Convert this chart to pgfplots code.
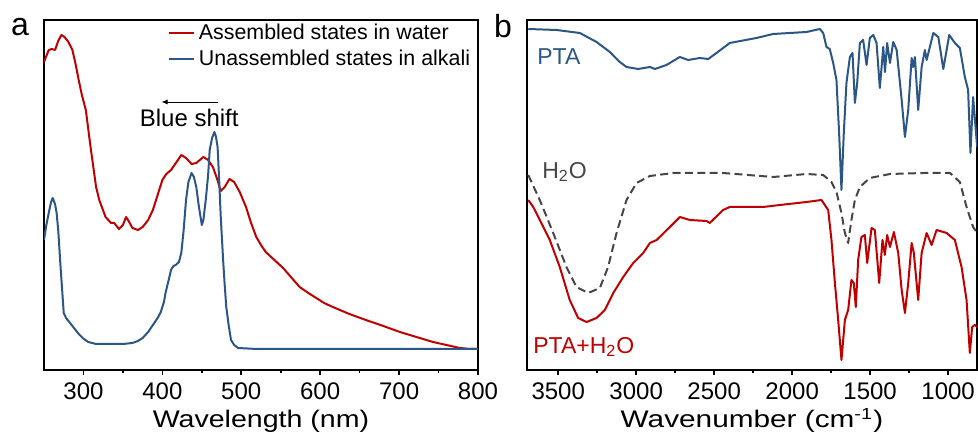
\documentclass[border=0pt]{standalone}
\usepackage{fontspec}
\setmainfont{Liberation Sans}
\usepackage{graphicx}
\usepackage{pgfplots}
\pgfplotsset{compat=1.18}
\usetikzlibrary{arrows.meta}

\definecolor{cred}{RGB}{192,0,0}
\definecolor{cblue}{RGB}{44,86,134}
\definecolor{cgray}{RGB}{70,70,70}

\pgfplotsset{
  spec/.style={
    scale only axis,
    height=175pt,
    ymin=0, ymax=350,
    ytick=\empty,
    xtick pos=bottom,
    tick align=outside,
    minor x tick num=1,
    major tick length=2.5pt,
    minor tick length=1.5pt,
    axis line style={line width=0.8pt},
    tick style={line width=0.8pt, black},
    xticklabel style={font=\fontsize{12}{14}\selectfont, anchor=base, yshift=-12.5pt, inner sep=0pt},
    x label style={font=\fontsize{12}{14}\selectfont, at={(axis description cs:0.5,0)},
      anchor=base, yshift=-29pt, inner sep=0pt},
    /pgf/number format/assume math mode=true,
    /pgf/number format/1000 sep={},
    every axis plot/.append style={line width=1pt, line join=round},
  }
}

\begin{document}
\begin{tikzpicture}
  % panel a: absorption spectra
  \begin{axis}[
    spec,
    at={(22pt,33.5pt)}, anchor=south west,
    width=217pt,
    xmin=250, xmax=800,
    xtick={300,400,...,800},
    xlabel={\scalebox{1.19}[1]{Wavelength (nm)}},
    legend style={draw=none, fill=none, at={(0.28,1.008)}, anchor=north west,
      font=\fontsize{10.7}{12}\selectfont, inner sep=1pt, row sep=0pt},
    legend cell align=left,
    legend image code/.code={\draw[#1] (0pt,0pt) -- (12.5pt,0pt);},
  ]
    \addplot[cred] coordinates {
      (250,308) (256,320) (260,321) (264,320) (268,329) (272,335) (276,333)
      (281,328) (286,320) (290,306) (294,290) (298,275) (303,260) (309,223)
      (316,183) (320,170) (328,153) (335,147) (339,147) (345,141) (350,145)
      (354,153) (358,148) (362,142) (369,140) (375,143) (382,150) (388,160)
      (394,175) (400,190) (405,196) (411,200) (418,208) (424,215) (430,212)
      (437,206) (443,207) (452,213) (458,210) (464,203) (469,192) (474,179)
      (479,183) (485,191) (491,188) (498,178) (506,163) (512,148) (519,133)
      (525,125) (531,118) (542,110) (553,102) (564,92) (574,83) (585,77)
      (595,72) (605,67) (616,63) (637,56) (658,50) (680,44) (701,38)
      (722,33) (743,28) (760,25) (777,22) (790,21) (800,21)
    };
    \addlegendentry{Assembled states in water}
    \addplot[cblue] coordinates {
      (250,130) (253,145) (256,157) (259,168) (261,172) (264,166) (266,157)
      (268,140) (271,103) (273,80) (275,57) (278,52) (282,48) (288,42)
      (294,36) (299,32) (306,28) (316,26) (337,26) (350,26) (362,27)
      (369,29) (375,32) (382,38) (388,45) (394,52) (398,58) (402,68)
      (404,77) (408,90) (411,100) (414,104) (417,105) (421,108) (424,117)
      (427,140) (430,170) (433,188) (437,197) (440,193) (443,183) (446,165)
      (450,145) (452,150) (455,170) (458,195) (460,220) (463,232) (466,238)
      (468,233) (470,223) (472,190) (474,153) (477,110) (479,85) (481,63)
      (484,45) (487,30) (491,25) (496,22) (520,21) (600,21) (800,21)
    };
    \addlegendentry{Unassembled states in alkali}
    \draw[-{Latex[length=3pt,width=2.5pt]}, line width=0.4pt]
      (axis cs:471,268) -- (axis cs:399,268);
    \node[font=\fontsize{12}{14}\selectfont] at (axis cs:434,252) {Blue shift};
  \end{axis}

  % panel b: FTIR spectra
  \begin{axis}[
    spec,
    at={(263.5pt,33.5pt)}, anchor=south west,
    width=225pt,
    xmin=815, xmax=3700, x dir=reverse,
    xtick={1000,1500,...,3500},
    xlabel={\scalebox{1.24}[1]{Wavenumber (cm\textsuperscript{-1})}},
  ]
    \addplot[cblue] coordinates {
      (3692,341) (3511,340) (3361,337) (3254,328) (3169,318) (3105,308)
      (3062,303) (2987,301) (2912,303) (2880,301) (2806,305) (2720,313)
      (2667,310) (2592,312) (2538,311) (2485,317) (2400,327) (2229,332)
      (2122,336) (2015,337) (1908,338) (1823,341) (1801,337) (1780,323)
      (1759,321) (1737,307) (1716,290) (1699,237) (1684,180) (1669,237)
      (1652,287) (1630,313) (1613,317) (1598,267) (1583,287) (1566,327)
      (1545,330) (1523,305) (1502,332) (1480,335) (1459,327) (1438,282)
      (1416,323) (1405,298) (1391,327) (1373,307) (1352,328) (1330,320)
      (1298,270) (1277,233) (1256,260) (1234,312) (1224,303) (1213,313)
      (1192,260) (1170,303) (1149,320) (1138,310) (1095,337) (1063,333)
      (1031,301) (993,335) (957,327) (925,322) (893,293) (872,280)
      (857,217) (840,273) (814,223)
    };
    \addplot[cgray, dash pattern=on 4pt off 2.2pt] coordinates {
      (3692,195) (3618,170) (3532,137) (3447,103) (3383,83) (3308,77)
      (3233,82) (3180,103) (3126,137) (3062,170) (2998,187) (2912,194)
      (2763,197) (2443,197) (2122,193) (1908,196) (1801,195) (1748,188)
      (1716,178) (1684,157) (1662,137) (1641,127) (1620,150) (1598,170)
      (1566,183) (1502,192) (1373,196) (1159,197) (988,197) (925,188)
      (882,163) (840,143) (814,137)
    };
    \addplot[cred] coordinates {
      (3692,170) (3660,163) (3618,150) (3554,130) (3490,103) (3426,70)
      (3372,52) (3318,48) (3254,52) (3201,60) (3147,77) (3083,93)
      (3019,107) (2955,117) (2912,127) (2869,130) (2784,143) (2720,153)
      (2656,150) (2549,149) (2528,147) (2443,160) (2400,163) (2186,163)
      (2079,165) (1908,168) (1812,170) (1769,160) (1748,130) (1726,87)
      (1705,50) (1684,10) (1662,50) (1641,60) (1620,90) (1605,87)
      (1592,63) (1577,110) (1556,133) (1534,135) (1519,107) (1491,142)
      (1470,140) (1442,87) (1421,130) (1406,115) (1391,135) (1373,123)
      (1348,138) (1320,117) (1298,80) (1277,57) (1256,87) (1234,127)
      (1220,117) (1192,70) (1170,117) (1138,137) (1106,125) (1074,140)
      (1010,137) (957,130) (914,103) (882,70) (861,17) (846,43)
      (829,45) (814,43)
    };
    \node[anchor=west, text=cblue, font=\fontsize{11.5}{13}\selectfont, inner sep=0pt]
      at (axis cs:3636,313) {PTA};
    \node[anchor=west, text=cgray, font=\fontsize{11.5}{13}\selectfont, inner sep=0pt]
      at (axis cs:3604,198) {H\textsubscript{2}O};
    \node[anchor=west, text=cred, font=\fontsize{11.5}{13}\selectfont, inner sep=0pt]
      at (axis cs:3662,23) {PTA+H\textsubscript{2}O};
  \end{axis}

  \node[font=\fontsize{16}{18}\selectfont] at (10pt,205pt) {a};
  \node[font=\fontsize{16}{18}\selectfont] at (251.5pt,205.5pt) {b};

  \pgfresetboundingbox
  \path (0pt,0pt) rectangle (489pt,218.5pt);
\end{tikzpicture}
\end{document}
